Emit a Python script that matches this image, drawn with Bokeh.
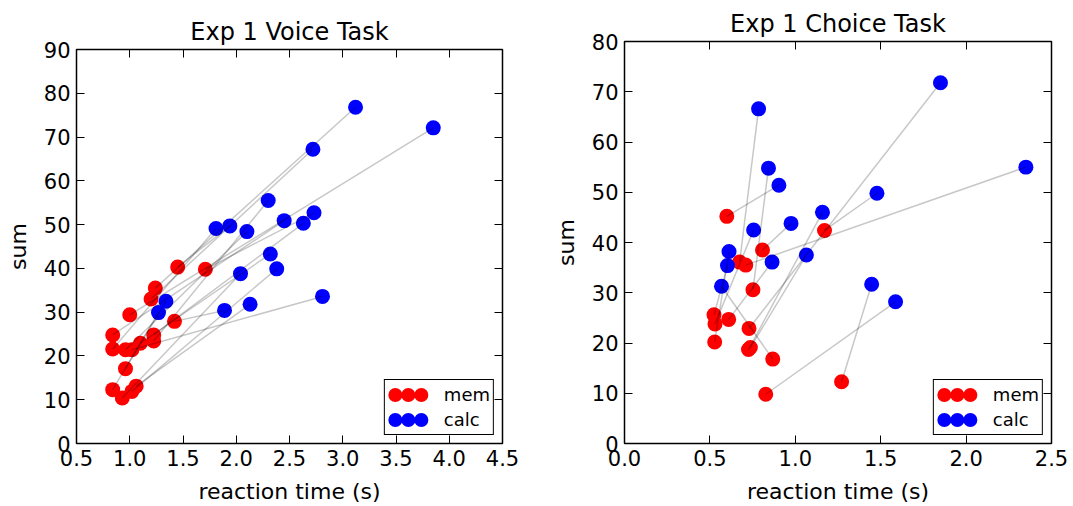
from bokeh.plotting import figure
from bokeh.layouts import row
from bokeh.models import LinearAxis, FixedTicker, PrintfTickFormatter, Range1d
from bokeh.embed import file_html
from bokeh.resources import INLINE

# ---------------- data: Exp 1 Voice Task (mem -> calc per subject) -------------
voice_mem_rt = [1.24, 1.20, 1.00, 1.45, 1.71, 0.84, 1.225, 1.225, 0.84, 0.96,
                1.02, 1.10, 0.96, 0.84, 0.93, 1.02, 1.06, 1.42]
voice_mem_sum = [35.5, 33.0, 29.4, 40.3, 39.8, 24.8, 24.8, 23.4, 21.6, 21.4,
                 21.4, 22.9, 17.1, 12.3, 10.4, 11.9, 13.1, 27.9]
voice_calc_rt = [3.12, 2.72, 3.85, 1.94, 2.73, 2.45, 2.63, 2.30, 1.81, 2.10,
                 2.81, 2.32, 1.34, 1.27, 2.04, 2.38, 2.13, 1.89]
voice_calc_sum = [76.8, 67.2, 72.1, 49.7, 52.7, 50.9, 50.3, 55.5, 49.1, 48.4,
                  33.6, 43.3, 32.5, 29.9, 38.8, 39.9, 31.8, 30.4]

# ---------------- data: Exp 1 Choice Task ---------------------------------------
choice_mem_rt = [0.599, 1.171, 0.808, 0.674, 0.71, 0.752, 0.524, 0.61, 0.530,
                 0.729, 0.528, 0.726, 0.737, 0.868, 1.271, 0.827]
choice_mem_sum = [45.2, 42.4, 38.5, 36.1, 35.5, 30.6, 25.6, 24.7, 23.8,
                  22.9, 20.2, 18.7, 19.1, 16.8, 12.3, 9.8]
choice_calc_rt = [0.904, 1.478, 0.975, 0.785, 2.35, 0.843, 0.603, 0.864, 0.756,
                  1.85, 0.612, 1.159, 1.065, 0.568, 1.447, 1.587]
choice_calc_sum = [51.4, 49.8, 43.8, 66.6, 55.0, 54.8, 35.4, 36.1, 42.5,
                   71.8, 38.2, 46.0, 37.5, 31.3, 31.7, 28.2]

voice_xticks = [0.5, 1.0, 1.5, 2.0, 2.5, 3.0, 3.5, 4.0, 4.5]
voice_yticks = [0, 10, 20, 30, 40, 50, 60, 70, 80, 90]
choice_xticks = [0.0, 0.5, 1.0, 1.5, 2.0, 2.5]
choice_yticks = [0, 10, 20, 30, 40, 50, 60, 70, 80]

FONT = "DejaVu Sans"


def style_axis(ax, ticks, fmt, show_labels):
    ax.ticker = FixedTicker(ticks=ticks)
    ax.formatter = PrintfTickFormatter(format=fmt)
    ax.axis_line_color = None
    ax.major_tick_in = 8
    ax.major_tick_out = 0
    ax.major_tick_line_color = "black"
    ax.major_tick_line_width = 1
    ax.minor_tick_line_color = None
    ax.major_label_text_font = FONT
    ax.major_label_text_color = "black"
    if show_labels:
        ax.major_label_text_font_size = "21px"
        ax.major_label_standoff = 6
        ax.axis_label_text_font = FONT
        ax.axis_label_text_font_size = "22px"
        ax.axis_label_text_font_style = "normal"
        ax.axis_label_text_color = "black"
    else:
        ax.major_label_text_font_size = "1px"
        ax.major_label_text_alpha = 0
        ax.major_label_standoff = 0


def panel(title, mx, my, cx, cy, xr, yr, xt, yt, fw, fh, bl, br, bt, bb):
    p = figure(width=bl + fw + br, height=bt + fh + bb,
               x_range=Range1d(*xr), y_range=Range1d(*yr),
               output_backend="svg", toolbar_location=None,
               min_border_left=bl, min_border_right=br,
               min_border_top=bt, min_border_bottom=bb)
    p.frame_align = False
    p.title.text = title
    p.title.text_font = FONT
    p.title.text_font_size = "24px"
    p.title.text_font_style = "normal"
    p.title.align = "center"
    p.title.text_color = "black"
    p.title.standoff = 8
    p.xgrid.visible = False
    p.ygrid.visible = False
    p.outline_line_color = "black"
    p.outline_line_width = 1.5
    p.background_fill_color = "white"
    p.border_fill_color = "white"

    style_axis(p.xaxis[0], xt, "%.1f", True)
    style_axis(p.yaxis[0], yt, "%d", True)
    p.xaxis[0].axis_label = "reaction time (s)"
    p.yaxis[0].axis_label = "sum"
    p.xaxis[0].major_label_standoff = 6
    p.xaxis[0].axis_label_standoff = 10
    p.yaxis[0].axis_label_standoff = 10

    top = LinearAxis()
    style_axis(top, xt, "%.1f", False)
    p.add_layout(top, "above")
    right = LinearAxis()
    style_axis(right, yt, "%d", False)
    p.add_layout(right, "right")

    p.scatter(mx, my, size=15, color="#ff0000", line_color=None)
    p.scatter(cx, cy, size=15, color="#0000ff", line_color=None)
    p.segment(x0=mx, y0=my, x1=cx, y1=cy, line_color="black",
              line_alpha=0.22, line_width=1.5)
    # hidden legend renderers: a round-capped dotted line gives matplotlib's 3-dot key
    lm = p.line(mx, my, line_color="#ff0000", line_width=14, line_cap="round",
                line_dash="0 13", line_dash_offset=6, legend_label="mem")
    lc = p.line(cx, cy, line_color="#0000ff", line_width=14, line_cap="round",
                line_dash="0 13", line_dash_offset=6, legend_label="calc")
    lm.visible = False
    lc.visible = False

    lg = p.legend[0]
    lg.location = "bottom_right"
    lg.margin = 8
    lg.padding = 3
    lg.spacing = 2
    lg.glyph_width = 42
    lg.glyph_height = 23
    lg.label_height = 23
    lg.label_standoff = 14
    lg.label_text_font = FONT
    lg.label_text_font_size = "18px"
    lg.label_text_color = "black"
    lg.border_line_color = "black"
    lg.border_line_width = 1.5
    lg.border_line_alpha = 1
    lg.background_fill_alpha = 1
    lg.inactive_fill_alpha = 0
    return p


p1 = panel("Exp 1 Voice Task", voice_mem_rt, voice_mem_sum, voice_calc_rt, voice_calc_sum,
           (0.5, 4.5), (0, 90), voice_xticks, voice_yticks,
           426, 395, 76, 48, 49, 62)
p2 = panel("Exp 1 Choice Task", choice_mem_rt, choice_mem_sum, choice_calc_rt, choice_calc_sum,
           (0.0, 2.5), (0, 80), choice_xticks, choice_yticks,
           434, 402, 67, 20, 41, 63)

layout = row(p1, p2)
open("out.html", "w").write(file_html(layout, INLINE))
